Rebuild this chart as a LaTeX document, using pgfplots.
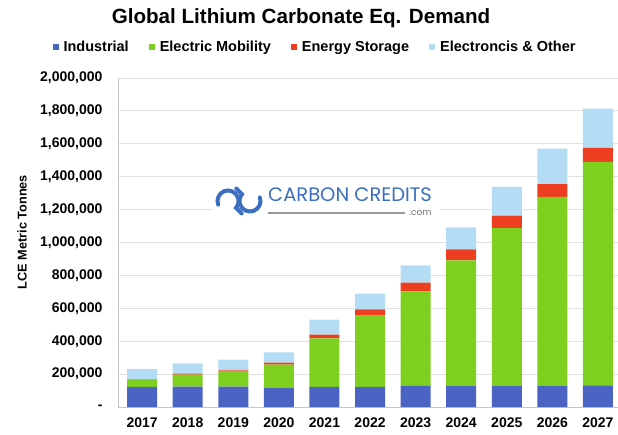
\documentclass[border=0pt]{standalone}
\usepackage{fontspec}
\setmainfont{Liberation Sans}
\newfontfamily\logofont{Poppins}
\usepackage{pgfplots}
\usepackage{pgfplotstable}
\pgfplotsset{compat=1.18}

\definecolor{indc}{HTML}{4B63C3}
\definecolor{evc}{HTML}{7DD11E}
\definecolor{esc}{HTML}{EE3E22}
\definecolor{othc}{HTML}{B5DCF5}
\definecolor{logoc}{HTML}{3C6FBF}

% LCE demand in tonnes, by segment
\pgfplotstableread{
x  year ind    ev      ess   oth
0  2017 121600 46600   2000  60800
1  2018 123600 73000   6000  62900
2  2019 123600 91200   8100  64900
3  2020 117500 139900  12100 62800
4  2021 121600 295800  22300 91200
5  2022 121600 434400  37700 95300
6  2023 127700 575400  52700 105400
7  2024 130000 761600  66900 133700
8  2025 130000 958100  75000 174300
9  2026 130000 1146600 79000 214800
10 2027 131700 1357700 85100 239000
}\demand

\begin{document}
\begin{tikzpicture}
\useasboundingbox (0,0) rectangle (618pt,434pt);

\node[font=\bfseries\fontsize{20.6}{22}\selectfont] at (301pt,416pt) {Global Lithium Carbonate Eq. Demand};
\node[rotate=90, font=\bfseries\fontsize{12.7}{14}\selectfont] at (22pt,202pt) {LCE Metric Tonnes};

\begin{axis}[
  at={(118pt,27pt)}, anchor=south west,
  scale only axis, width=500pt, height=329pt,
  ybar stacked, bar width=30pt,
  xmin=-0.53, xmax=10.44, ymin=0, ymax=2000000,
  xtick={0,...,10},
  xticklabels={2017,2018,2019,2020,2021,2022,2023,2024,2025,2026,2027},
  ytick={0,200000,...,2000000},
  yticklabels={-\hspace{7pt},{200,000},{400,000},{600,000},{800,000},{1,000,000},
               {1,200,000},{1,400,000},{1,600,000},{1,800,000},{2,000,000}},
  scaled y ticks=false,
  ymajorgrids, grid style={draw=black!12, line width=0.8pt},
  axis x line*=bottom, axis y line*=left,
  axis line style={-, draw=black!22, line width=0.8pt},
  major tick length=0pt,
  tick label style={font=\bfseries\fontsize{14}{14}\selectfont},
  yticklabel style={xshift=-12pt},
  xticklabel style={yshift=-7pt},
  legend columns=4,
  legend style={at={(0.394,1.094)}, anchor=center, draw=none, fill=none,
                font=\bfseries\fontsize{14.5}{15}\selectfont,
                /tikz/every odd column/.append style={column sep=3pt},
                /tikz/every even column/.append style={column sep=18pt}},
  legend image code/.code={\fill[#1] (0pt,-3pt) rectangle (6pt,3pt);},
]
\addplot[fill=indc, draw=none] table[x=x, y=ind] {\demand};
\addlegendentry{Industrial}
\addplot[fill=evc, draw=none] table[x=x, y=ev] {\demand};
\addlegendentry{Electric Mobility}
\addplot[fill=esc, draw=none] table[x=x, y=ess] {\demand};
\addlegendentry{Energy Storage}
\addplot[fill=othc, draw=none] table[x=x, y=oth] {\demand};
\addlegendentry{Electroncis \& Other}
\end{axis}

% watermark
\fill[white] (213pt,215pt) rectangle (440pt,250pt);
\begin{scope}[draw=logoc, line width=4pt, line cap=round]
  \draw (228pt,233pt) ++(200:10.5pt) arc[start angle=200, end angle=-40, radius=10.5pt] -- ++(-45:8pt);
  \draw (250pt,233pt) ++(20:10.5pt) arc[start angle=20, end angle=-220, radius=10.5pt] -- ++(135:8pt);
\end{scope}
\node[anchor=west, inner sep=0pt, text=logoc, font=\logofont\fontsize{19.5}{20}\selectfont] at (268pt,239pt) {CARBON CREDITS};
\draw[black!40, line width=1.3pt] (268pt,221pt) -- (405pt,221pt);
\node[anchor=west, inner sep=0pt, text=black!55, font=\logofont\fontsize{9}{10}\selectfont] at (409pt,221pt) {.com};
\end{tikzpicture}
\end{document}
